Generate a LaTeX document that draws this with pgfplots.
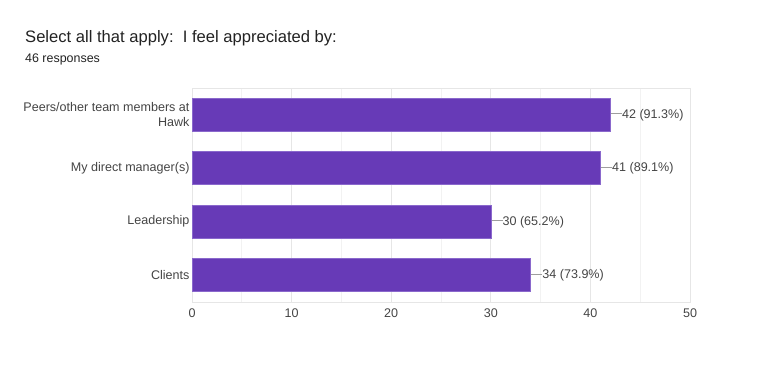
\documentclass[border=0pt]{standalone}
\usepackage{pgfplots}
\pgfplotsset{compat=1.18}
\usepackage{fontspec}
\setmainfont{Liberation Sans}
\definecolor{barpurple}{HTML}{673AB7}
\definecolor{baredge}{HTML}{8A68CC}
\definecolor{txt}{HTML}{222222}
\definecolor{lbl}{HTML}{444444}
\definecolor{majgrid}{HTML}{E6E6E6}
\definecolor{mingrid}{HTML}{F2F2F2}
\definecolor{leader}{HTML}{9E9E9E}
\begin{document}
\begin{tikzpicture}[x=1bp,y=1bp]
\path[use as bounding box] (0,0) rectangle (768,365);
\node[anchor=base west,inner sep=0pt,text=txt,font=\fontsize{16.65}{19}\selectfont] at (25,323) {Select all that apply:\ \ I feel appreciated by:};
\node[anchor=base west,inner sep=0pt,text=txt,font=\fontsize{12.5}{14}\selectfont] at (25,303) {46 responses};
\begin{axis}[
  at={(192bp,63bp)}, anchor=south west,
  scale only axis, width=498bp, height=214bp,
  xmin=0, xmax=50, ymin=-0.5, ymax=3.5,
  y dir=reverse,
  xbar, bar width=33bp,
  xtick={0,10,20,30,40,50},
  minor xtick={5,15,25,35,45},
  ytick={0,1,2,3},
  yticklabels={{Peers/other team members at\\Hawk},{My direct manager(s)},{Leadership},{Clients}},
  yticklabel style={align=right,text=lbl,font=\fontsize{12.6}{15}\selectfont,xshift=1bp},
  xticklabel style={text=lbl,font=\fontsize{12.6}{15}\selectfont,yshift=-3bp},
  /pgf/number format/assume math mode=true,
  major tick length=0pt, minor tick length=0pt,
  xmajorgrids, xminorgrids,
  major grid style={draw=majgrid,line width=0.8pt},
  minor grid style={draw=mingrid,line width=0.8pt},
  axis line style={draw=majgrid,line width=0.8pt},
  extra x ticks={0}, extra x tick labels={},
  extra x tick style={grid style={draw=black!70,line width=1pt}},
  point meta=explicit symbolic,
  nodes near coords={\textcolor{leader}{\rule[0.32em]{11bp}{0.7pt}}\pgfplotspointmeta},
  every node near coord/.append style={anchor=west,inner sep=0pt,text=lbl,font=\fontsize{12.6}{15}\selectfont,xshift=0.5bp},
  clip=false,
]
\addplot[fill=barpurple,draw=baredge,line width=0.6pt] coordinates {
  (42,0) [42 (91.3\%)]
  (41,1) [41 (89.1\%)]
  (30,2) [30 (65.2\%)]
  (34,3) [34 (73.9\%)]
};
\end{axis}
\end{tikzpicture}
\end{document}
